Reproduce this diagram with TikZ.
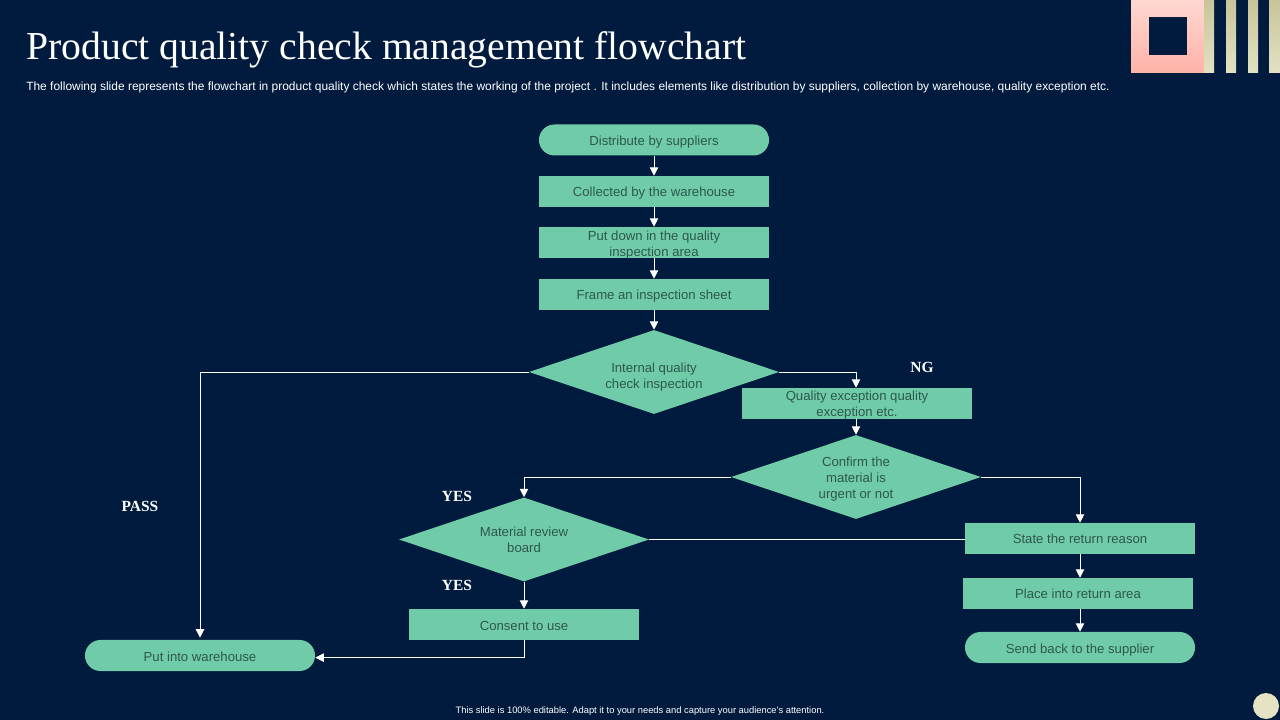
\documentclass[tikz,border=0pt]{standalone}
\usepackage{fontspec}
\setmainfont{Liberation Sans}
\newfontfamily\titlefont{Liberation Serif}
\usetikzlibrary{shapes, arrows.meta, positioning, calc}
\definecolor{Slide}{RGB}{0, 27, 61}
\definecolor{Mint}{RGB}{112, 204, 168}
\definecolor{MintText}{RGB}{45, 88, 78}
\definecolor{PinkTop}{RGB}{255, 216, 208}
\definecolor{PinkBottom}{RGB}{255, 178, 168}
\definecolor{SandTop}{RGB}{200, 196, 154}
\definecolor{SandBottom}{RGB}{226, 226, 196}
\definecolor{SandDot}{RGB}{230, 226, 196}
\newcommand{\firstline}[1]{\rule{0pt}{#1pt}}
\tikzset{
  boxtext/.style={text=MintText, align=center, inner sep=0pt, font=\fontsize{9.35}{11.4}\selectfont},
  stepbox/.style={boxtext, rectangle, fill=Mint, minimum width=5.75cm, minimum height=0.775cm},
  endbox/.style={boxtext, rounded rectangle, fill=Mint, minimum width=5.75cm, minimum height=0.775cm},
  checkbox/.style={boxtext, diamond, aspect=3, fill=Mint, minimum width=6.25cm, minimum height=2.1cm},
  flow/.style={white, line width=0.7pt, -{Triangle[width=6pt,length=6pt]}},
  tag/.style={text=white, inner sep=0pt, font=\titlefont\bfseries\fontsize{11}{12}\selectfont}
}

\begin{document}
\begin{tikzpicture}[x=0.025cm, y=-0.025cm]
    % Slide background
    \fill[Slide] (0,0) rectangle (1280,720);
    \useasboundingbox (0,0) rectangle (1280,720);

    % Corner decoration
    \shade[top color=PinkTop, bottom color=PinkBottom] (1131,0) rectangle (1204,73);
    \fill[Slide] (1149,17) rectangle (1187,55);
    \shade[top color=SandTop, bottom color=SandBottom] (1204,0) rectangle (1214,73);
    \shade[top color=SandTop, bottom color=SandBottom] (1226,0) rectangle (1236,73);
    \shade[top color=SandTop, bottom color=SandBottom] (1248,0) rectangle (1258,73);
    \shade[top color=SandTop, bottom color=SandBottom] (1269,0) rectangle (1280,73);
    \fill[SandDot] (1266,706) circle (13);

    % Heading and footer
    \node[anchor=base west, text=white, inner sep=0pt, font=\titlefont\fontsize{28.2}{30}\selectfont] (title) at (26,59.5) {Product quality check management flowchart};
    \node[anchor=base west, text=white, inner sep=0pt, font=\fontsize{8.51}{10}\selectfont] (subtitle) at (26,91) {The following slide represents the flowchart in product quality check which states the working of the project . It includes elements like distribution by suppliers, collection by warehouse, quality exception etc.};
    \node[text=white, inner sep=0pt, font=\fontsize{6.65}{8}\selectfont] (footer) at (640,711) {This slide is 100\% editable. Adapt it to your needs and capture your audience's attention.};

    % Main column
    \node[endbox, text height=9.5pt] (distribute) at (654,140) {Distribute by suppliers};
    \node[stepbox, text height=9.5pt] (collected) at (654,191.5) {Collected by the warehouse};
    \node[stepbox, inner ysep=-3pt] (putdown) at (654,242.5) {\firstline{10.5}Put down in the quality\\inspection area};
    \node[stepbox, text height=9.5pt] (frame) at (654,294.5) {Frame an inspection sheet};
    \node[checkbox] (internal) at (654,372) {\firstline{14}Internal quality\\check inspection};

    % Exception branch
    \node[stepbox, inner ysep=-3pt] (exception) at (857,403.5) {\firstline{9}Quality exception quality\\exception etc.};
    \node[checkbox] (confirm) at (856,477) {\firstline{9.75}Confirm the\\material is\\urgent or not};
    \node[checkbox] (review) at (524,539.5) {\firstline{7.5}Material review\\board};
    \node[stepbox, text height=8.1pt] (consent) at (524,624.5) {Consent to use};
    \node[endbox, text height=8.1pt] (warehouse) at (200,655.5) {Put into warehouse};

    % Return branch
    \node[stepbox] (state) at (1080,538.5) {State the return reason};
    \node[stepbox] (place) at (1078,593.5) {Place into return area};
    \node[endbox, text height=11pt] (send) at (1080,647.5) {Send back to the supplier};

    % Branch labels
    \node[tag] (ng) at (922,367.5) {NG};
    \node[tag] (pass) at (140,506.5) {PASS};
    \node[tag] (yesone) at (457,496.5) {YES};
    \node[tag] (yestwo) at (457,585.5) {YES};

    % Connectors
    \draw[flow] (distribute.south) -- (collected.north);
    \draw[flow] (collected.south) -- (putdown.north);
    \draw[flow] (putdown.south) -- (frame.north);
    \draw[flow] (frame.south) -- (internal.north);
    \draw[flow] (internal.west) -| ([yshift=1.5pt]warehouse.north);
    \draw[flow] (internal.east) -| ([xshift=-0.025cm]exception.north);
    \draw[flow] ([xshift=-0.025cm]exception.south) -- (confirm.north);
    \draw[flow] (confirm.west) -| (review.north);
    \draw[flow] (confirm.east) -| (state.north);
    \draw[white, line width=0.7pt] (review.east) -- (review.east -| state.west);
    \draw[flow] (review.south) -- (consent.north);
    \draw[flow] (consent.south) |- ([yshift=-1.5pt]warehouse.east);
    \draw[flow] (state.south) -- (state.south |- place.north);
    \draw[flow] (state.south |- place.south) -- (send.north);
\end{tikzpicture}
\end{document}
